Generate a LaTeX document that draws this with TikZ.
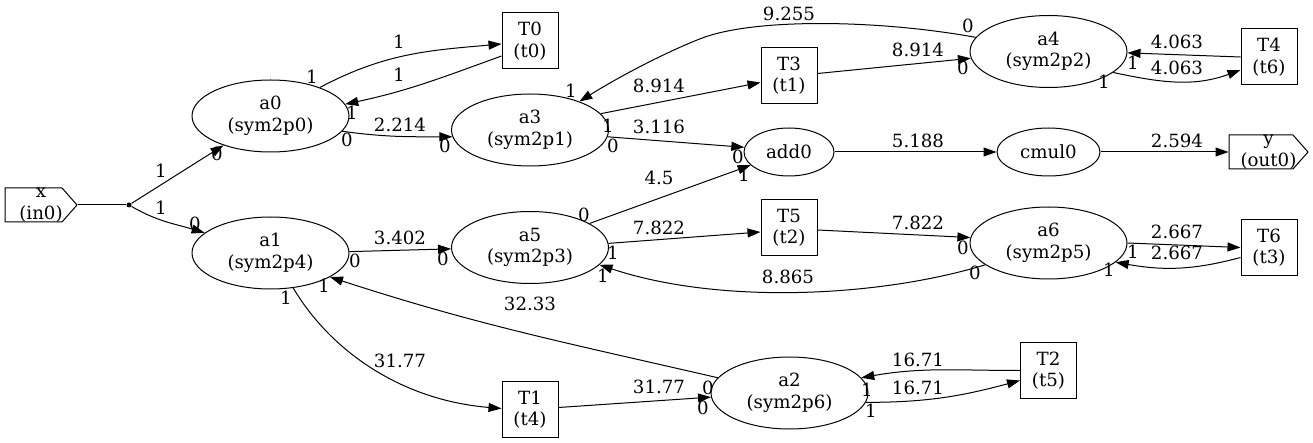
\documentclass[tikz,border=0pt]{standalone}
\usepackage{fontspec}
\setmainfont{DejaVu Serif}
\usetikzlibrary{shapes.geometric,arrows.meta}
\begin{document}
\begin{tikzpicture}[x=1pt,y=-1pt,
  font=\fontsize{18.2}{21.5}\selectfont,
  line width=1pt,
  >={Triangle[length=13pt,width=9pt]},
  ell/.style={draw, ellipse, minimum width=157pt, minimum height=72pt, inner sep=0pt, align=center},
  sellipse/.style={draw, ellipse, inner sep=0pt, minimum height=48pt},
  sq/.style={draw, rectangle, minimum width=56pt, minimum height=56pt, inner sep=0pt, align=center},
  io/.style={rectangle, inner sep=0pt, align=center},
  lbl/.style={inner sep=0pt},
  conn/.style={->}]
\useasboundingbox (0,0) rectangle (1313,443);

% nodes
\node[io, minimum width=72pt] (x) at (41,205) {x\\(in0)};
\draw (x.center) ++(-36,-17) -- ++(57,0) -- ++(15,17) -- ++(-15,17) -- ++(-57,0) -- cycle;
\node[circle, fill, inner sep=0pt, minimum size=5pt] (p) at (129,205) {};
\node[ell] (a0) at (270.5,116) {a0\\(sym2p0)};
\node[ell] (a1) at (270.5,253) {a1\\(sym2p4)};
\node[sq] (T0) at (530,41) {T0\\(t0)};
\node[ell] (a3) at (530,130) {a3\\(sym2p1)};
\node[ell] (a5) at (530,247.5) {a5\\(sym2p3)};
\node[sq] (T1) at (530,409.5) {T1\\(t4)};
\node[sq] (T3) at (789,75.5) {T3\\(t1)};
\node[sellipse, minimum width=90pt] (add0) at (789,152) {add0};
\node[sq] (T5) at (789,228) {T5\\(t2)};
\node[ell] (a2) at (789.5,393) {a2\\(sym2p6)};
\node[ell] (a4) at (1048.5,51.5) {a4\\(sym2p2)};
\node[sellipse, minimum width=103pt] (cmul0) at (1048.5,152) {cmul0};
\node[ell] (a6) at (1048.5,243) {a6\\(sym2p5)};
\node[sq] (T2) at (1048.5,370.5) {T2\\(t5)};
\node[sq] (T4) at (1269,57) {T4\\(t6)};
\node[sq] (T6) at (1269,247.5) {T6\\(t3)};
\node[io, minimum width=79pt] (y) at (1268.5,152) {y\\(out0)};
\draw (y.center) ++(-39.5,-17) -- ++(64,0) -- ++(15,17) -- ++(-15,17) -- ++(-64,0) -- cycle;

% connectors
\draw (x.east) -- (p);
\draw[conn] (p) -- (a0.212);
\draw[conn] (p) to[out=-30,in=163] (a1.163);
\draw[conn] (a0.30) to[out=28,in=185] ([yshift=-3pt]T0.west);
\draw[conn] ([yshift=-15pt]T0.west) to[out=200,in=12] (a0.9);
\draw[conn] (a0.-12) to[out=-8,in=180] (a3.185);
\draw[conn] (a4.169) .. controls (880,20) and (760,18) .. (705,37) .. controls (680,46) and (630,70) .. (a3.30);
\draw[conn] (a3.13) -- ([yshift=-7pt]T3.west);
\draw[conn] (a3.-5) -- (add0.174);
\draw[conn] ([yshift=2pt]T3.east) -- (a4.185);
\draw[conn] (add0) -- (cmul0);
\draw[conn] (cmul0) -- (y.west);
\draw[conn] (T4.west) -- (a4.-1);
\draw[conn] (a4.-18) to[out=-12,in=200] ([yshift=-13pt]T4.west);
\draw[conn] (a1.1) -- (a5.181);
\draw[conn] (a5.22) -- (add0.199);
\draw[conn] (a5.3) -- ([yshift=-4pt]T5.west);
\draw[conn] ([yshift=-2pt]T5.east) -- (a6.176);
\draw[conn] (a6.199) .. controls (880,297) and (720,305) .. (a5.-14);
\draw[conn] (a6.east) -- (T6.west);
\draw[conn] ([yshift=-10pt]T6.west) to[out=195,in=-10] (a6.-16);
\draw[conn] (a2.168) to[out=167,in=-18] (a1.-22);
\draw[conn] (a1.-57) .. controls (330,350) and (400,400) .. ([yshift=1pt]T1.west);
\draw[conn] ([yshift=2pt]T1.east) -- (a2.183);
\draw[conn] (T2.west) to[out=180,in=10] (a2.12);
\draw[conn] (a2.-7) to[out=0,in=195] ([yshift=-10pt]T2.west);

% edge labels
\node[lbl] (l1) at (161,171) {1};
\node[lbl] (l2) at (217,154) {0};
\node[lbl] (l3) at (161,208) {1};
\node[lbl] (l4) at (195,224) {0};
\node[lbl] (l5) at (399,42) {1};
\node[lbl] (l6) at (312,77) {1};
\node[lbl] (l7) at (399,75) {1};
\node[lbl] (l8) at (352,113) {1};
\node[lbl] (l9) at (400,125) {2.214};
\node[lbl] (l10) at (347,140) {0};
\node[lbl] (l11) at (445,146) {0};
\node[lbl] (l12) at (789,14) {9.255};
\node[lbl] (l13) at (968,26) {0};
\node[lbl] (l14) at (571,91) {1};
\node[lbl] (l15) at (659,86) {8.914};
\node[lbl] (l16) at (608,126) {1};
\node[lbl] (l17) at (659,127) {3.116};
\node[lbl] (l18) at (613,146) {0};
\node[lbl] (l19) at (738,157) {0};
\node[lbl] (l20) at (918,50) {8.914};
\node[lbl] (l21) at (963,68) {0};
\node[lbl] (l22) at (918,141) {5.188};
\node[lbl] (l23) at (1177,141) {2.594};
\node[lbl] (l24) at (1177,42) {4.063};
\node[lbl] (l25) at (1133,63) {1};
\node[lbl] (l26) at (1177,68) {4.063};
\node[lbl] (l27) at (1104,82) {1};
\node[lbl] (l28) at (400,238) {3.402};
\node[lbl] (l29) at (355,261) {0};
\node[lbl] (l30) at (443,259) {0};
\node[lbl] (l31) at (659,178) {4.5};
\node[lbl] (l32) at (584,215) {0};
\node[lbl] (l33) at (744,175) {1};
\node[lbl] (l34) at (659,228) {7.822};
\node[lbl] (l35) at (613,253) {1};
\node[lbl] (l36) at (918,223) {7.822};
\node[lbl] (l37) at (963,248) {0};
\node[lbl] (l38) at (788,277) {8.865};
\node[lbl] (l39) at (975,273) {0};
\node[lbl] (l40) at (603,276) {1};
\node[lbl] (l41) at (1177,232) {2.667};
\node[lbl] (l42) at (1133,252) {1};
\node[lbl] (l43) at (1177,253) {2.667};
\node[lbl] (l44) at (1109,270) {1};
\node[lbl] (l45) at (530,304) {32.33};
\node[lbl] (l46) at (708,388) {0};
\node[lbl] (l47) at (324,286) {1};
\node[lbl] (l48) at (400,361) {31.77};
\node[lbl] (l49) at (286,298) {1};
\node[lbl] (l50) at (659,387) {31.77};
\node[lbl] (l51) at (703,408) {0};
\node[lbl] (l52) at (918,360) {16.71};
\node[lbl] (l53) at (867,390) {1};
\node[lbl] (l54) at (918,388) {16.71};
\node[lbl] (l55) at (871,411) {1};
\end{tikzpicture}
\end{document}
